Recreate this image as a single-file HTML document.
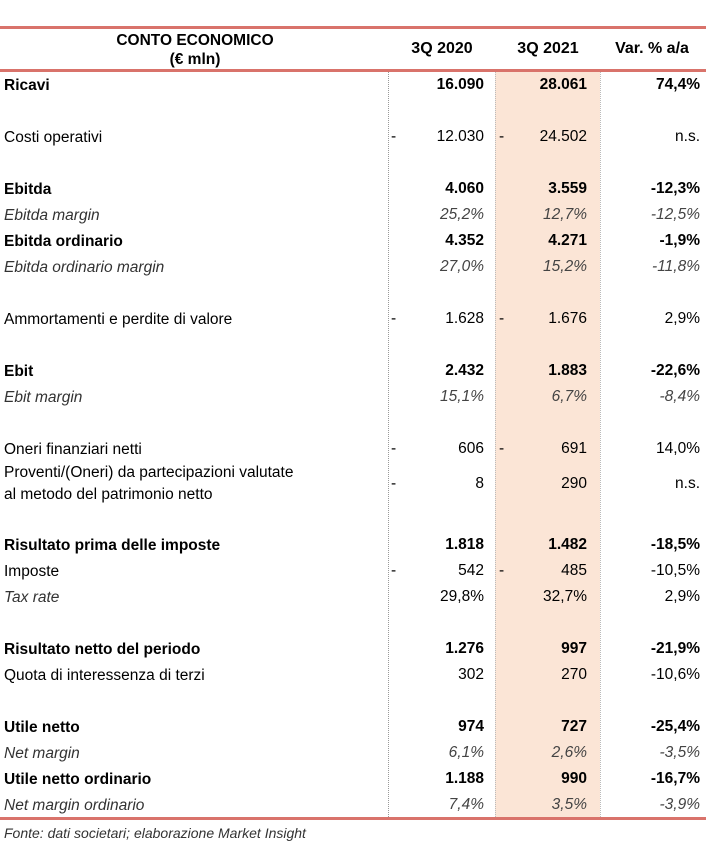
<!DOCTYPE html><html><head><meta charset="utf-8"><style>
body{margin:0;width:706px;height:847px;background:#fff;position:relative;font-family:"Liberation Sans",sans-serif;color:#000;overflow:hidden}
.a{position:absolute;white-space:nowrap;font-size:15.5px;line-height:20px}
.b{font-weight:bold}.i{font-style:italic;color:#333}
.r{text-align:right}
</style></head><body>
<div style="position:absolute;left:0;top:26px;width:706px;height:3px;background:#d9736b"></div>
<div style="position:absolute;left:0;top:69px;width:706px;height:3px;background:#d9736b"></div>
<div style="position:absolute;left:0;top:817px;width:706px;height:3px;background:#d9736b"></div>
<div style="position:absolute;left:495px;top:72px;width:105px;height:745px;background:#fbe5d6"></div>
<div style="position:absolute;left:388px;top:72px;height:745px;border-left:1px dotted #999"></div>
<div style="position:absolute;left:495px;top:72px;height:745px;border-left:1px dotted #bbb"></div>
<div style="position:absolute;left:600px;top:72px;height:745px;border-left:1px dotted #bbb"></div>
<div class="a b" style="left:60px;top:31px;width:270px;text-align:center;line-height:19px">CONTO ECONOMICO<br>(€ mln)</div>
<div class="a b" style="left:390px;top:39px;width:104px;text-align:center;font-size:16px">3Q 2020</div>
<div class="a b" style="left:496px;top:39px;width:104px;text-align:center;font-size:16px">3Q 2021</div>
<div class="a b" style="left:600px;top:39px;width:104px;text-align:center;font-size:16px">Var. % a/a</div>
<div id="rows"></div>
<div class="a i" style="left:4px;top:823px;font-size:14px">Fonte: dati societari; elaborazione Market Insight</div>
<script>
var R=[[86,"Ricavi","b","","16.090","","28.061","74,4%"],
[138,"Costi operativi","","-","12.030","-","24.502","n.s."],
[190,"Ebitda","b","","4.060","","3.559","-12,3%"],
[216,"Ebitda margin","i","","25,2%","","12,7%","-12,5%"],
[242,"Ebitda ordinario","b","","4.352","","4.271","-1,9%"],
[268,"Ebitda ordinario margin","i","","27,0%","","15,2%","-11,8%"],
[320,"Ammortamenti e perdite di valore","","-","1.628","-","1.676","2,9%"],
[372,"Ebit","b","","2.432","","1.883","-22,6%"],
[398,"Ebit margin","i","","15,1%","","6,7%","-8,4%"],
[450,"Oneri finanziari netti","","-","606","-","691","14,0%"],
[485,"Proventi/(Oneri) da partecipazioni valutate<br>al metodo del patrimonio netto","","-","8","","290","n.s."],
[546,"Risultato prima delle imposte","b","","1.818","","1.482","-18,5%"],
[572,"Imposte","","-","542","-","485","-10,5%"],
[598,"Tax rate","t","","29,8%","","32,7%","2,9%"],
[650,"Risultato netto del periodo","b","","1.276","","997","-21,9%"],
[676,"Quota di interessenza di terzi","","","302","","270","-10,6%"],
[728,"Utile netto","b","","974","","727","-25,4%"],
[754,"Net margin","i","","6,1%","","2,6%","-3,5%"],
[780,"Utile netto ordinario","b","","1.188","","990","-16,7%"],
[806,"Net margin ordinario","i","","7,4%","","3,5%","-3,9%"]];
var h="";
R.forEach(function(r){var c=r[0],cl=r[2],two=r[1].indexOf("<br>")>0;
var lc=cl=="t"?"i":cl;
var t=two?c-23:c-11;
h+='<div class="a '+lc+'" style="left:4px;top:'+t+'px;line-height:22px">'+r[1]+'</div>';
var vs=cl=="i"?"font-style:italic;color:#444":"";
var vc=cl=="b"?"b":"";
h+='<div class="a '+vc+' r" style="left:392px;width:92px;top:'+(c-11)+'px;'+vs+'">'+r[4]+'</div>';
h+='<div class="a '+vc+' r" style="left:496px;width:91px;top:'+(c-11)+'px;'+vs+'">'+r[6]+'</div>';
h+='<div class="a '+vc+' r" style="left:600px;width:100px;top:'+(c-11)+'px;'+vs+'">'+r[7]+'</div>';
if(r[3])h+='<div class="a" style="left:391px;top:'+(c-11)+'px">-</div>';
if(r[5])h+='<div class="a" style="left:499px;top:'+(c-11)+'px">-</div>';
});
document.getElementById("rows").innerHTML=h;
</script>
</body></html>
